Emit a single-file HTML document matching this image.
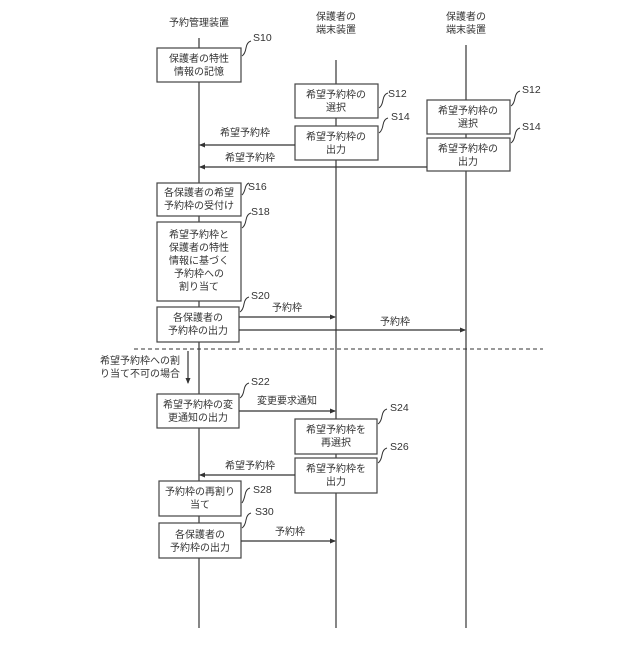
<!DOCTYPE html>
<html><head><meta charset="utf-8"><style>
body{margin:0;background:#fff}
svg text{font-family:"Liberation Sans","Noto Sans CJK JP",sans-serif;fill:#333}
</style></head><body>
<svg width="640" height="640" viewBox="0 0 640 640" xmlns="http://www.w3.org/2000/svg">
<defs><marker id="a" markerWidth="6" markerHeight="6" refX="5" refY="3" orient="auto" markerUnits="userSpaceOnUse"><path d="M0,0.5 L6,3 L0,5.5z" fill="#333"/></marker></defs>
<g stroke="#444" stroke-width="1.3" fill="none">
<line x1="199" y1="38" x2="199" y2="628"/>
<line x1="336" y1="60" x2="336" y2="628"/>
<line x1="466" y1="45" x2="466" y2="628"/>
</g>
<g font-size="10" text-anchor="middle">
<text x="199" y="26">予約管理装置</text>
<text x="336" y="20">保護者の</text><text x="336" y="33">端末装置</text>
<text x="466" y="20">保護者の</text><text x="466" y="33">端末装置</text>
</g>
<g stroke="#444" stroke-width="1.2" fill="#fff">
<rect x="157" y="48" width="84" height="34"/>
<rect x="295" y="84" width="83" height="34"/>
<rect x="295" y="126" width="83" height="34"/>
<rect x="427" y="100" width="83" height="34"/>
<rect x="427" y="138" width="83" height="33"/>
<rect x="157" y="183" width="84" height="33"/>
<rect x="157" y="222" width="84" height="79"/>
<rect x="157" y="307" width="82" height="35"/>
<rect x="157" y="394" width="82" height="34"/>
<rect x="295" y="419" width="82" height="35"/>
<rect x="295" y="458" width="82" height="35"/>
<rect x="159" y="481" width="82" height="35"/>
<rect x="159" y="523" width="82" height="35"/>
</g>
<g font-size="10" text-anchor="middle">
<text x="199" y="62">保護者の特性</text><text x="199" y="75">情報の記憶</text>
<text x="336" y="98">希望予約枠の</text><text x="336" y="111">選択</text>
<text x="336" y="140">希望予約枠の</text><text x="336" y="153">出力</text>
<text x="468" y="114">希望予約枠の</text><text x="468" y="127">選択</text>
<text x="468" y="152">希望予約枠の</text><text x="468" y="165">出力</text>
<text x="199" y="196">各保護者の希望</text><text x="199" y="209">予約枠の受付け</text>
<text x="199" y="238">希望予約枠と</text><text x="199" y="251">保護者の特性</text><text x="199" y="264">情報に基づく</text><text x="199" y="277">予約枠への</text><text x="199" y="290">割り当て</text>
<text x="198" y="321">各保護者の</text><text x="198" y="334">予約枠の出力</text>
<text x="198" y="408">希望予約枠の変</text><text x="198" y="421">更通知の出力</text>
<text x="336" y="433">希望予約枠を</text><text x="336" y="446">再選択</text>
<text x="336" y="472">希望予約枠を</text><text x="336" y="485">出力</text>
<text x="200" y="495">予約枠の再割り</text><text x="200" y="508">当て</text>
<text x="200" y="538">各保護者の</text><text x="200" y="551">予約枠の出力</text>
</g>
<g stroke="#333" stroke-width="1.2" fill="none" marker-end="url(#a)">
<line x1="295" y1="145" x2="200" y2="145"/>
<line x1="427" y1="167" x2="200" y2="167"/>
<line x1="239" y1="317" x2="335" y2="317"/>
<line x1="239" y1="330" x2="465" y2="330"/>
<line x1="188" y1="351" x2="188" y2="383"/>
<line x1="239" y1="411" x2="335" y2="411"/>
<line x1="295" y1="475" x2="200" y2="475"/>
<line x1="241" y1="541" x2="335" y2="541"/>
</g>
<line x1="134" y1="349" x2="543" y2="349" stroke="#333" stroke-width="1.1" stroke-dasharray="4,3"/>
<g font-size="10" text-anchor="middle">
<text x="245" y="136">希望予約枠</text>
<text x="250" y="161">希望予約枠</text>
<text x="287" y="311">予約枠</text>
<text x="395" y="325">予約枠</text>
<text x="287" y="404">変更要求通知</text>
<text x="250" y="469">希望予約枠</text>
<text x="290" y="535">予約枠</text>
</g>
<g font-size="10"><text x="100" y="364">希望予約枠への割</text><text x="100" y="377">り当て不可の場合</text></g>
<g stroke="#333" stroke-width="1" fill="none">
<path d="M242,56 q3,-2 4,-8 q1,-6 5,-7"/>
<path d="M379,108 q3,-2 4,-8 q1,-6 5,-7"/>
<path d="M379,133 q3,-2 4,-8 q1,-6 5,-7"/>
<path d="M511,106 q3,-2 4,-8 q1,-6 5,-7"/>
<path d="M511,143 q3,-2 4,-8 q1,-6 5,-7"/>
<path d="M242,195 q2,-2 3,-6 q1,-5 4,-6"/>
<path d="M242,228 q3,-2 4,-8 q1,-6 5,-7"/>
<path d="M240,312 q3,-2 4,-8 q1,-6 5,-7"/>
<path d="M240,398 q3,-2 4,-8 q1,-6 5,-7"/>
<path d="M378,424 q3,-2 4,-8 q1,-6 5,-7"/>
<path d="M378,463 q3,-2 4,-8 q1,-6 5,-7"/>
<path d="M242,503 q2,-3 3,-8 q1,-6 5,-7"/>
<path d="M242,528 q3,-2 4,-8 q1,-6 5,-7"/>
</g>
<g font-size="10.5">
<text x="253" y="41">S10</text>
<text x="388" y="97">S12</text>
<text x="391" y="120">S14</text>
<text x="522" y="93">S12</text>
<text x="522" y="130">S14</text>
<text x="248" y="190">S16</text>
<text x="251" y="215">S18</text>
<text x="251" y="299">S20</text>
<text x="251" y="385">S22</text>
<text x="390" y="411">S24</text>
<text x="390" y="450">S26</text>
<text x="253" y="493">S28</text>
<text x="255" y="515">S30</text>
</g>
</svg>
</body></html>
